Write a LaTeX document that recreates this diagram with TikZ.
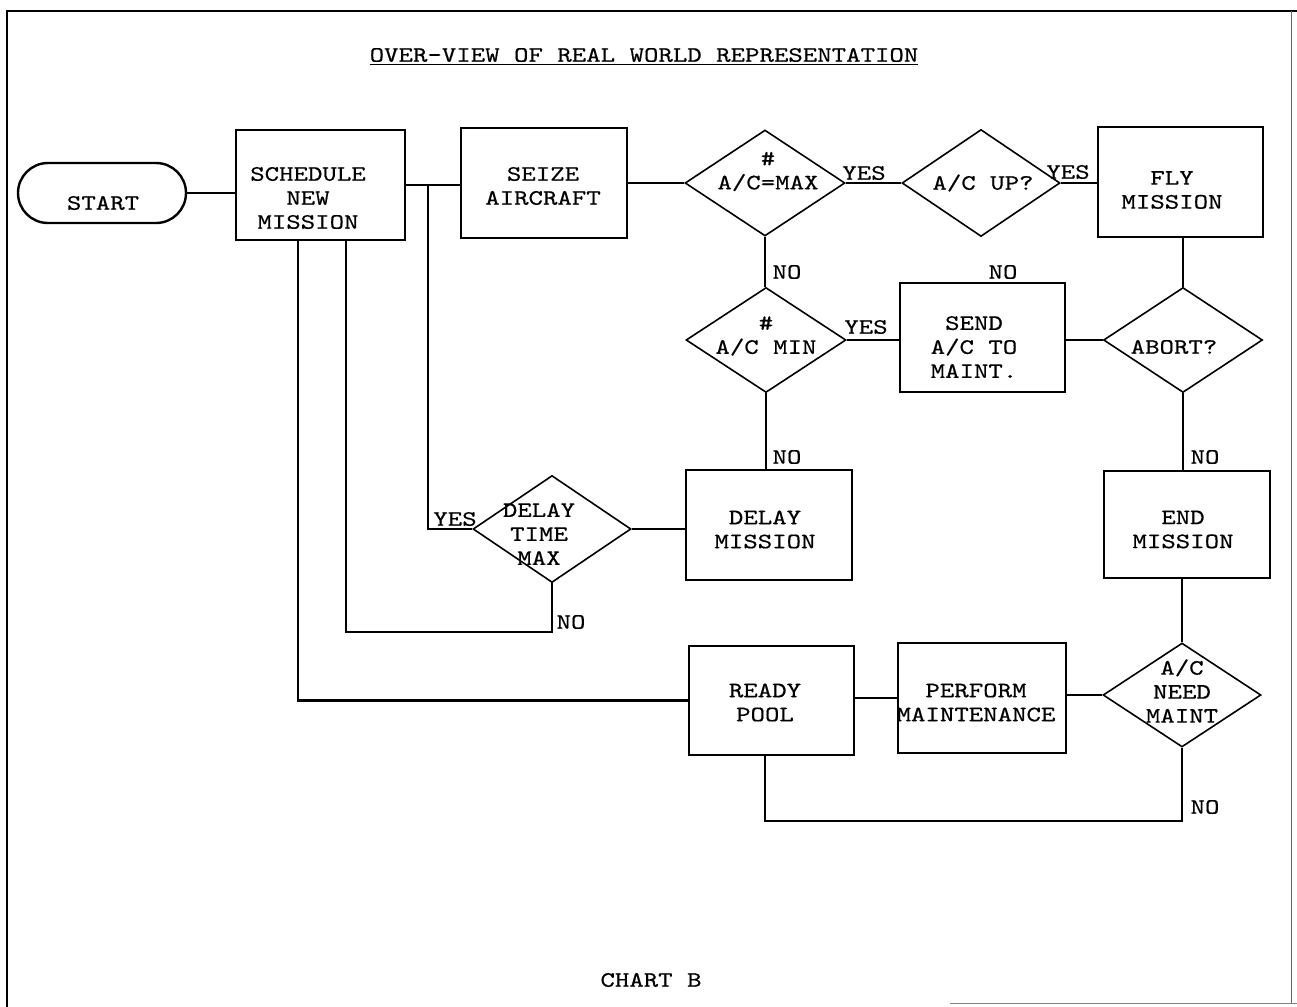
\documentclass[tikz,border=0pt]{standalone}
\usepackage{fontspec}
\newfontfamily\tw{Latin Modern Mono}[FakeStretch=1.25,FakeBold=0.5]
\usetikzlibrary{shapes.geometric}
\begin{document}
\begin{tikzpicture}[x=0.5pt,y=-0.5pt,
  txt/.style={font=\tw\fontsize{11}{12}\selectfont, align=center, inner sep=0pt},
  box/.style={draw, line width=0.8pt, rectangle, inner sep=0pt},
  dia/.style={draw, line width=0.8pt, diamond, inner sep=0pt},
  conn/.style={line width=1.1pt}]
\useasboundingbox (0,0) rectangle (1297,1007);
% frame
\draw[line width=1.4pt] (7,1007) -- (7,11) -- (1297,11);
\draw[line width=0.4pt, black!60] (1291,11) -- (1291,1003);
\draw[line width=0.4pt, black!50] (950,1003) -- (1297,1003);
% title
\node[txt] (title) at (644,57) {\underline{OVER-VIEW OF REAL WORLD REPRESENTATION}};
\node[txt] (chart) at (651,980) {CHART B};
% shapes
\node[box, line width=1.2pt, rounded corners=15pt, minimum width=84pt, minimum height=30pt] (start) at (102,193) {};
\node[txt] (start-t) at (103,203) {START};
\node[box, minimum width=84.5pt, minimum height=55pt] (sched) at (320.5,185) {};
\node[txt] (sched-t) at (308,198) {SCHEDULE\\NEW\\MISSION};
\node[box, minimum width=83pt, minimum height=55pt] (seize) at (544,183) {};
\node[txt] (seize-t) at (543,186) {SEIZE\\AIRCRAFT};
\node[dia, minimum width=80pt, minimum height=53pt] (dmax) at (765,183) {};
\node[txt] (dmax-t) at (768,171.5) {\#\\A/C=MAX};
\node[dia, minimum width=79pt, minimum height=53.5pt] (dup) at (981,183) {};
\node[txt] (dup-t) at (983,183) {A/C UP?};
\node[box, minimum width=82.5pt, minimum height=55pt] (fly) at (1180.5,182) {};
\node[txt] (fly-t) at (1172,190) {FLY\\MISSION};
\node[dia, minimum width=80pt, minimum height=52.5pt] (dmin) at (766,340) {};
\node[txt] (dmin-t) at (766,336) {\#\\A/C MIN};
\node[box, minimum width=82.5pt, minimum height=54.5pt] (send) at (982.5,337.5) {};
\node[txt] (send-t) at (974,347) {SEND\\A/C TO\\MAINT.};
\node[dia, minimum width=79.5pt, minimum height=52.5pt] (abort) at (1183,340) {};
\node[txt] (abort-t) at (1174,347) {ABORT?};
\node[box, minimum width=83pt, minimum height=55pt] (delaym) at (769,525) {};
\node[txt] (delaym-t) at (765,529.5) {DELAY\\MISSION};
\node[box, minimum width=83pt, minimum height=53.5pt] (endm) at (1187,524.5) {};
\node[txt] (endm-t) at (1183,529.5) {END\\MISSION};
\node[dia, minimum width=79pt, minimum height=53.5pt] (dtm) at (552,529) {};
\node[txt] (dtm-t) at (539,534) {DELAY\\TIME\\MAX};
\node[box, minimum width=82.5pt, minimum height=54.5pt] (ready) at (771.5,700.5) {};
\node[txt] (ready-t) at (765,702.5) {READY\\POOL};
\node[box, minimum width=84pt, minimum height=55pt] (perform) at (982,698) {};
\node[txt] (perform-t) at (976,702.5) {PERFORM\\MAINTENANCE};
\node[dia, minimum width=79pt, minimum height=52pt] (need) at (1182,695) {};
\node[txt] (need-t) at (1182,691) {A/C\\NEED\\MAINT};
% labels
\node[txt] (y1) at (864,173) {YES};
\node[txt] (y2) at (1068,172) {YES};
\node[txt] (n1) at (787,272) {NO};
\node[txt] (n2) at (1003,272) {NO};
\node[txt] (y3) at (866,327) {YES};
\node[txt] (n3) at (787,457) {NO};
\node[txt] (n4) at (1205,457) {NO};
\node[txt] (y4) at (455,519) {YES};
\node[txt] (n5) at (571,622) {NO};
\node[txt] (n6) at (1205,807) {NO};
% helper coordinates
\coordinate (j1) at (428,185);
\coordinate (x1) at (298,0);
\coordinate (x2) at (346,0);
\coordinate (c2) at (552,632);
\coordinate (c3) at (765,821);
% connectors
\draw[conn] (start.east) -- (start.east -| sched.west);
\draw[conn] (sched.east) -- (sched.east -| seize.west);
\draw[conn] (j1) |- (dtm.west);
\draw[conn] (seize.east) -- (dmax.west);
\draw[conn] (dmax.east) -- (dup.west);
\draw[conn] (dup.east) -- (dup.east -| fly.west);
\draw[conn] (dmax.south) -- (dmax.south |- dmin.north);
\draw[conn] (dmin.east) -- (dmin.east -| send.west);
\draw[conn] (abort.west -| send.east) -- (abort.west);
\draw[conn] (abort.north |- fly.south) -- (abort.north);
\draw[conn] (abort.south) -- (abort.south |- endm.north);
\draw[conn] (dmin.south) -- (dmin.south |- delaym.north);
\draw[conn] (dtm.east) -- (dtm.east -| delaym.west);
\draw[conn] (need.north |- endm.south) -- (need.north);
\draw[conn] (perform.west -| ready.east) -- (perform.west);
\draw[conn] (need.west -| perform.east) -- (need.west);
\draw[conn] (need.south) |- (c3) -- (c3 |- ready.south);
\draw[conn] (sched.south -| x1) |- (ready.west);
\draw[conn] (sched.south -| x2) |- (c2) -- (dtm.south);
\end{tikzpicture}
\end{document}
